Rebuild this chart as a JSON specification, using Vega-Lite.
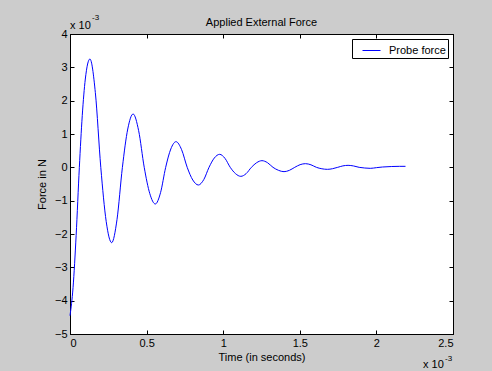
{
  "$schema": "https://vega.github.io/schema/vega-lite/v6.json",
  "width": 383,
  "height": 300,
  "autosize": {"type": "none"},
  "padding": {"left": 70, "top": 34, "right": 39, "bottom": 37},
  "background": "#cccccc",
  "title": {"text": "Applied External Force", "fontSize": 11, "fontWeight": "normal", "font": "Liberation Sans", "color": "black", "offset": -14, "anchor": "middle", "frame": "group"},
  "config": {
    "view": {"stroke": "black", "strokeWidth": 1, "fill": "white"},
    "axis": {"grid": false, "domainColor": "black", "tickColor": "black", "labelColor": "black", "titleColor": "black", "labelFont": "Liberation Sans", "titleFont": "Liberation Sans", "labelFontSize": 11, "titleFontSize": 11, "titleFontWeight": "normal", "tickSize": -4, "labelPadding": 7, "format": "~g"}
  },
  "data": {"values": [
    {"time_ms": 0.000, "force_mN": -4.45, "series": "Probe force"},
    {"time_ms": 0.020, "force_mN": -3.6, "series": "Probe force"},
    {"time_ms": 0.040, "force_mN": -2.05, "series": "Probe force"},
    {"time_ms": 0.061, "force_mN": 0.0, "series": "Probe force"},
    {"time_ms": 0.080, "force_mN": 1.55, "series": "Probe force"},
    {"time_ms": 0.100, "force_mN": 2.65, "series": "Probe force"},
    {"time_ms": 0.130, "force_mN": 3.25, "series": "Probe force"},
    {"time_ms": 0.1655, "force_mN": 2.24, "series": "Probe force"},
    {"time_ms": 0.201, "force_mN": 0.0, "series": "Probe force"},
    {"time_ms": 0.2365, "force_mN": -1.63, "series": "Probe force"},
    {"time_ms": 0.272, "force_mN": -2.26, "series": "Probe force"},
    {"time_ms": 0.307, "force_mN": -1.56, "series": "Probe force"},
    {"time_ms": 0.342, "force_mN": 0.0, "series": "Probe force"},
    {"time_ms": 0.377, "force_mN": 1.15, "series": "Probe force"},
    {"time_ms": 0.412, "force_mN": 1.6, "series": "Probe force"},
    {"time_ms": 0.448, "force_mN": 1.1, "series": "Probe force"},
    {"time_ms": 0.4845, "force_mN": 0.0, "series": "Probe force"},
    {"time_ms": 0.521, "force_mN": -0.79, "series": "Probe force"},
    {"time_ms": 0.557, "force_mN": -1.1, "series": "Probe force"},
    {"time_ms": 0.591, "force_mN": -0.76, "series": "Probe force"},
    {"time_ms": 0.6245, "force_mN": 0.0, "series": "Probe force"},
    {"time_ms": 0.658, "force_mN": 0.55, "series": "Probe force"},
    {"time_ms": 0.692, "force_mN": 0.77, "series": "Probe force"},
    {"time_ms": 0.7285, "force_mN": 0.53, "series": "Probe force"},
    {"time_ms": 0.765, "force_mN": 0.0, "series": "Probe force"},
    {"time_ms": 0.8015, "force_mN": -0.38, "series": "Probe force"},
    {"time_ms": 0.838, "force_mN": -0.53, "series": "Probe force"},
    {"time_ms": 0.873, "force_mN": -0.37, "series": "Probe force"},
    {"time_ms": 0.9075, "force_mN": 0.0, "series": "Probe force"},
    {"time_ms": 0.942, "force_mN": 0.28, "series": "Probe force"},
    {"time_ms": 0.977, "force_mN": 0.39, "series": "Probe force"},
    {"time_ms": 1.0115, "force_mN": 0.27, "series": "Probe force"},
    {"time_ms": 1.046, "force_mN": 0.0, "series": "Probe force"},
    {"time_ms": 1.0805, "force_mN": -0.19, "series": "Probe force"},
    {"time_ms": 1.115, "force_mN": -0.27, "series": "Probe force"},
    {"time_ms": 1.1495, "force_mN": -0.19, "series": "Probe force"},
    {"time_ms": 1.184, "force_mN": 0.0, "series": "Probe force"},
    {"time_ms": 1.2185, "force_mN": 0.14, "series": "Probe force"},
    {"time_ms": 1.253, "force_mN": 0.2, "series": "Probe force"},
    {"time_ms": 1.289, "force_mN": 0.14, "series": "Probe force"},
    {"time_ms": 1.325, "force_mN": 0.0, "series": "Probe force"},
    {"time_ms": 1.361, "force_mN": -0.09, "series": "Probe force"},
    {"time_ms": 1.397, "force_mN": -0.13, "series": "Probe force"},
    {"time_ms": 1.432, "force_mN": -0.09, "series": "Probe force"},
    {"time_ms": 1.467, "force_mN": 0.0, "series": "Probe force"},
    {"time_ms": 1.502, "force_mN": 0.08, "series": "Probe force"},
    {"time_ms": 1.537, "force_mN": 0.11, "series": "Probe force"},
    {"time_ms": 1.573, "force_mN": 0.076, "series": "Probe force"},
    {"time_ms": 1.6085, "force_mN": 0.0, "series": "Probe force"},
    {"time_ms": 1.644, "force_mN": -0.043, "series": "Probe force"},
    {"time_ms": 1.680, "force_mN": -0.06, "series": "Probe force"},
    {"time_ms": 1.714, "force_mN": -0.041, "series": "Probe force"},
    {"time_ms": 1.7475, "force_mN": 0.0, "series": "Probe force"},
    {"time_ms": 1.781, "force_mN": 0.043, "series": "Probe force"},
    {"time_ms": 1.815, "force_mN": 0.06, "series": "Probe force"},
    {"time_ms": 1.851, "force_mN": 0.041, "series": "Probe force"},
    {"time_ms": 1.8875, "force_mN": 0.0, "series": "Probe force"},
    {"time_ms": 1.924, "force_mN": -0.02, "series": "Probe force"},
    {"time_ms": 1.960, "force_mN": -0.03, "series": "Probe force"},
    {"time_ms": 2.000, "force_mN": -0.01, "series": "Probe force"},
    {"time_ms": 2.040, "force_mN": 0.01, "series": "Probe force"},
    {"time_ms": 2.100, "force_mN": 0.025, "series": "Probe force"},
    {"time_ms": 2.150, "force_mN": 0.03, "series": "Probe force"},
    {"time_ms": 2.190, "force_mN": 0.03, "series": "Probe force"}
  ]},
  "layer": [
    {
      "mark": {"type": "line", "color": "#0000ff", "strokeWidth": 1, "interpolate": "monotone"},
      "encoding": {
        "x": {"field": "time_ms", "type": "quantitative", "scale": {"domain": [0, 2.5], "nice": false, "zero": false},
              "axis": {"title": "Time (in seconds)", "values": [0, 0.5, 1, 1.5, 2, 2.5], "titlePadding": 3}},
        "y": {"field": "force_mN", "type": "quantitative", "scale": {"domain": [-5, 4], "nice": false, "zero": false},
              "axis": {"title": "Force in N", "values": [-5, -4, -3, -2, -1, 0, 1, 2, 3, 4], "titlePadding": 7}},
        "color": {"field": "series", "type": "nominal", "scale": {"range": ["#0000ff"]},
                  "legend": {"title": null, "orient": "top-right", "offset": 5, "fillColor": "white", "strokeColor": "black", "padding": 2, "symbolType": "stroke", "symbolSize": 324, "symbolStrokeWidth": 1, "symbolOffset": 8, "labelOffset": 8, "labelFont": "Liberation Sans", "labelFontSize": 11, "labelColor": "black"}}
      }
    },
    {
      "mark": {"type": "line", "opacity": 0},
      "encoding": {
        "x": {"field": "time_ms", "type": "quantitative", "axis": {"orient": "top", "title": null, "labels": false, "values": [0, 0.5, 1, 1.5, 2, 2.5]}},
        "y": {"field": "force_mN", "type": "quantitative", "axis": {"orient": "right", "title": null, "labels": false, "values": [-5, -4, -3, -2, -1, 0, 1, 2, 3, 4]}}
      }
    },
    {
      "data": {"values": [{}]},
      "mark": {"type": "text", "text": "x 10", "align": "left", "baseline": "alphabetic", "dy": -5, "font": "Liberation Sans", "fontSize": 11, "color": "black"},
      "encoding": {"x": {"datum": 0, "axis": null}, "y": {"datum": 4, "axis": null}}
    },
    {
      "data": {"values": [{}]},
      "mark": {"type": "text", "text": "-3", "align": "left", "baseline": "alphabetic", "dx": 22, "dy": -14, "font": "Liberation Sans", "fontSize": 8, "color": "black"},
      "encoding": {"x": {"datum": 0, "axis": null}, "y": {"datum": 4, "axis": null}}
    },
    {
      "data": {"values": [{}]},
      "mark": {"type": "text", "text": "x 10", "align": "left", "baseline": "alphabetic", "dx": -30, "dy": 34, "font": "Liberation Sans", "fontSize": 11, "color": "black"},
      "encoding": {"x": {"datum": 2.5, "axis": null}, "y": {"datum": -5, "axis": null}}
    },
    {
      "data": {"values": [{}]},
      "mark": {"type": "text", "text": "-3", "align": "left", "baseline": "alphabetic", "dx": -8, "dy": 27, "font": "Liberation Sans", "fontSize": 8, "color": "black"},
      "encoding": {"x": {"datum": 2.5, "axis": null}, "y": {"datum": -5, "axis": null}}
    }
  ],
  "resolve": {"axis": {"x": "independent", "y": "independent"}}
}
